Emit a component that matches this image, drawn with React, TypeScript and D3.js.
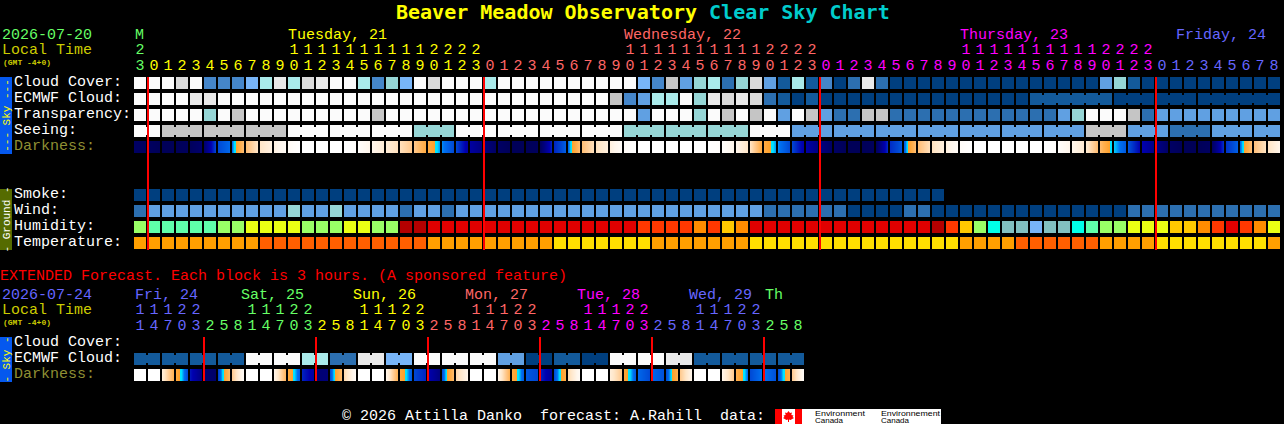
import React from "react";
import * as d3 from "d3";

// Colour levels (index = level)
const cloudPalette = ["#003F7F","#135A9B","#2C6FB0","#4586CA","#60A0E2","#78B5F8","#96D6D6","#A9EAEA","#C5C5C5","#DADADA","#E9E9E9","#FBFBFB"];
const humidityPalette = ["#B40000","#E00000","#FF3800","#FF8C00","#FFC800","#EAFF14","#99FF66","#5FFFAA","#00FFE8","#82C0C0","#78B4F8"];
const temperaturePalette = ["#FFDF00","#FF9F00","#FF5F00"];
const darkDomain = [0,1,2,3,3.5,3.85,4.06,4.07,5,6,7,8,9];
const darkRange = ["#000058","#000080","#0000B0","#0048D4","#0070F0","#00E0FF","#00E8FF","#FFA028","#FFB050","#FFC88C","#FFE6C8","#FFF6EC","#FFFFFF"];

// Main forecast (hourly)
const cloudCover = [11,11,11,9,11,3,3,3,5,7,10,7,9,10,11,11,7,3,6,5,11,9,11,11,11,7,11,11,11,11,11,11,11,11,11,11,5,3,8,4,6,7,2,6,9,4,1,7,1,3,0,2,10,2,0,0,0,0,0,0,0,0,0,0,0,0,0,0,0,4,6,1,0,0,0,0,0,0,0,0,0,0];
const ecmwfCloud = [11,11,11,11,10,10,11,11,11,11,11,11,11,11,11,11,11,11,11,11,11,11,11,11,11,11,11,11,11,11,11,11,11,11,8,3,4,7,7,11,6,10,9,10,9,2,1,0,1,0,0,0,0,0,0,0,0,0,0,0,0,0,0,0,1,1,1,1,1,1,0,0,0,0,0,0,0,0,0,0,0,0];
const ecmwfSpans = [1,1,1,1,1,1,1,1,1,1,1,1,1,1,1,1,1,1,1,1,1,1,1,1,1,1,1,1,1,1,1,1,1,1,1,1,1,1,1,1,1,1,1,1,1,1,1,1,1,1,1,1,1,1,1,1,1,1,1,1,1,1,1,1,6,3,3,6];
const transparency = [11,11,11,11,11,6,11,8,11,11,11,11,11,11,11,11,11,8,11,11,11,11,11,11,11,11,11,11,11,11,11,11,11,11,11,11,4,11,11,11,6,11,8,11,8,11,4,11,8,4,2,2,8,8,2,2,2,2,2,2,2,2,2,2,2,2,4,6,11,11,11,8,2,4,4,4,4,4,4,4,4,4];
const seeingBlocks = [11,8,8,8,11,11,11,6,11,11,11,11,6,6,6,11,4,4,4,4,4,4,4,8,4,2,4,4];
const seeingSpans = [2,3,3,3,3,3,3,3,3,3,3,3,3,3,3,3,3,3,3,3,3,3,3,3,3,3,3,2];
const darkness = [0.3,0.2,0,0,0.1,0.5,3,3.4,5.6,7,7.7,8.5,9,9,9,9,8.8,8,7.4,6.8,6,4.7,3.6,3,1.7,1,0.3,0,0,0.1,2.5,3.3,5.6,6.8,7.6,8.6,9,9,9,9,9,9,8.8,8,7,4.7,3.6,3,1.8,1,0.3,0,0,0.1,2.6,3.2,5.6,6.8,7.6,8.6,9,9,9,9,9,9,8.8,8,7.3,5.5,3.8,3.2,2,1.2,0.3,0,0,0.2,2.7,3.3,5.7,6.9,8];
const smoke = [0,0,0,0,0,0,0,0,0,0,0,0,0,0,0,0,0,0,0,0,0,0,0,0,0,0,0,0,0,0,0,0,0,0,0,0,0,0,0,0,0,0,0,0,0,0,0,0,0,0,0,0,0,0,0,0,0,0];
const wind = [2,4,4,4,4,4,4,4,4,4,4,6,4,4,6,4,4,4,4,2,4,4,2,4,4,4,4,4,4,4,4,4,4,4,4,4,4,4,4,4,4,4,4,4,4,2,2,2,2,2,2,0,0,0,0,2,2,0,0,0,0,0,0,0,0,0,0,0,0,0,0,2,2,2,2,2,2,2,2,2,2,2];
const humidity = [6,7,7,7,7,7,6,6,5,5,5,5,6,6,6,5,5,6,6,0,0,1,1,1,1,1,1,1,1,1,1,1,1,1,1,1,2,2,2,2,3,2,4,3,1,1,1,1,1,1,1,1,1,1,1,1,1,0,2,4,6,8,9,9,10,9,9,8,7,6,6,5,5,5,4,4,3,2,1,2,3,5];
const temperature = [1,1,1,1,1,1,1,1,1,2,2,2,2,2,2,2,2,2,2,2,2,1,1,1,1,1,1,1,1,1,0,0,0,0,0,0,0,1,1,1,1,1,1,1,0,0,0,0,0,0,0,0,0,0,0,0,0,0,0,1,1,1,1,2,2,2,2,2,2,1,1,1,1,0,0,0,0,0,0,0,0,1];

// Main axis
const mainHours = [3,0,1,2,3,4,5,6,7,8,9,0,1,2,3,4,5,6,7,8,9,0,1,2,3,0,1,2,3,4,5,6,7,8,9,0,1,2,3,4,5,6,7,8,9,0,1,2,3,0,1,2,3,4,5,6,7,8,9,0,1,2,3,4,5,6,7,8,9,0,1,2,3,0,1,2,3,4,5,6,7,8];
const mainTens = [2,"","","","","","","","","","",1,1,1,1,1,1,1,1,1,1,2,2,2,2,"","","","","","","","","","",1,1,1,1,1,1,1,1,1,1,2,2,2,2,"","","","","","","","","","",1,1,1,1,1,1,1,1,1,1,2,2,2,2,"","","","","","","","",""];
const mainDaySpans = [1,24,24,24,9];
const dayColors = ["#66FF66","#FFFF00","#FF6666","#FF00FF","#6666FF"];
const mainDayLabels = [["M",0,"#66FF66"],["Tuesday, 21",11,"#FFFF00"],["Wednesday, 22",35,"#FF6666"],["Thursday, 23",59,"#FF00FF"],["Friday, 24",74.43,"#6666FF"]] as [string,number,string][];
const mainMidnights = [1,25,49,73];

// Extended forecast (3-hourly)
const extHours = [1,4,7,0,3,2,5,8,1,4,7,0,3,2,5,8,1,4,7,0,3,2,5,8,1,4,7,0,3,2,5,8,1,4,7,0,3,2,5,8,1,4,7,0,3,2,5,8];
const extTens = [1,1,1,2,2,"","","",1,1,1,2,2,"","","",1,1,1,2,2,"","","",1,1,1,2,2,"","","",1,1,1,2,2,"","","",1,1,1,2,2,"","",""];
const extDaySpans = [5,8,8,8,8,8,3];
const extDayColors = ["#6666FF","#66FF66","#FFFF00","#FF6666","#FF00FF","#6666FF","#66FF66"];
const extDayLabels = [["Fri, 24",135,"#6666FF"],["Sat, 25",241,"#66FF66"],["Sun, 26",353,"#FFFF00"],["Mon, 27",465,"#FF6666"],["Tue, 28",577,"#FF00FF"],["Wed, 29",689,"#6666FF"],["Th",765,"#66FF66"]] as [string,number,string][];
const extMidnights = [5,13,21,29,37,45];
const extEcmwfBlocks = [1,1,1,1,11,11,7,2,10,5,11,11,11,4,0,1,0,11,11,10,1,1,1,1];
const extDarkStart = [9,9,7.5,4.6,2.3,0.6,2.8,6,9,9,8,4.6,2.5,0.7,3,6.5,9,9,8,4.6,3,2,3,6.5,9,9,8,4.7,3.2,2.5,3,6.5,9,9,7.5,4.5,3.4,3.4,3,6,9,9,8,5,3,3.5,3,6];
const extDarkEnd = [9,9,5,3,1,0.4,5.5,8.5,9,9,5.2,3.2,1.7,0.8,5.5,8.5,9,9,5,3.2,2.5,1,5.5,8,9,9,5,3.2,3,1.5,4.8,8.5,9,9,6,3.2,3,3.1,5,8,9,9,6,3.4,3.5,3.1,4.9,8.5];

const mono = "'Liberation Mono', monospace";
const sans = "'Liberation Sans', sans-serif";
const WHITE = "#FFFFFF";
const OLIVE = "#8F8F33";

const xMain = d3.scaleLinear().domain([0, 82]).range([134, 134 + 14 * 82]);
const cloudColor = d3.scaleOrdinal<number, string>().domain(d3.range(cloudPalette.length)).range(cloudPalette);
const humidityColor = d3.scaleOrdinal<number, string>().domain(d3.range(humidityPalette.length)).range(humidityPalette);
const temperatureColor = d3.scaleOrdinal<number, string>().domain(d3.range(temperaturePalette.length)).range(temperaturePalette);
const darkColor = d3.scaleLinear<string>().domain(darkDomain).range(darkRange).clamp(true);

const CELL = 12;

function Cells({ values, y, color }: { values: number[]; y: number; color: (v: number) => string }) {
  return (
    <g shapeRendering="crispEdges">
      {values.map((v, i) => (
        <rect key={i} x={xMain(i)} y={y} width={CELL} height={CELL} fill={color(v)} />
      ))}
    </g>
  );
}

// Cells of one run are joined by a neck across the gap
function Necks({ values, spans, y, color }: { values: number[]; spans: number[]; y: number; color: (v: number) => string }) {
  const necks: React.ReactNode[] = [];
  let start = 0;
  spans.forEach((s) => {
    for (let k = start; k < start + s - 1; k++) {
      necks.push(<rect key={k} x={xMain(k) + CELL} y={y + 2} width={2} height={CELL - 4} fill={color(values[k])} />);
    }
    start += s;
  });
  return <g shapeRendering="crispEdges">{necks}</g>;
}

function DarkCells({ starts, ends, y }: { starts: number[]; ends: number[]; y: number }) {
  const px = d3.range(CELL);
  return (
    <g shapeRendering="crispEdges">
      {starts.map((s, i) =>
        px.map((p) => (
          <rect key={i + "-" + p} x={xMain(i) + p} y={y} width={1} height={CELL} fill={darkColor(s + ((ends[i] - s) * (p + 0.5)) / CELL)} />
        ))
      )}
    </g>
  );
}

function expand(blocks: number[], spans: number[]) {
  return blocks.flatMap((b, i) => d3.range(spans[i]).map(() => b));
}
function colorsBySpan(spans: number[], colors: string[]) {
  return spans.flatMap((s, i) => d3.range(s).map(() => colors[i]));
}

function Label({ x, y, fill = WHITE, children }: { x: number; y: number; fill?: string; children: React.ReactNode }) {
  return (
    <text x={x} y={y} fill={fill} fontFamily={mono} fontSize={15} style={{ whiteSpace: "pre" }}>
      {children}
    </text>
  );
}

function Digits({ values, colors, y }: { values: (number | string)[]; colors: string[]; y: number }) {
  return (
    <g>
      {values.map((d, i) =>
        d === "" ? null : (
          <text key={i} x={xMain(i) + 6} y={y} fill={colors[i]} fontFamily={mono} fontSize={15} textAnchor="middle">
            {d}
          </text>
        )
      )}
    </g>
  );
}

function Side({ y, h, fill, color, text, size = 11 }: { y: number; h: number; fill: string; color: string; text: string; size?: number }) {
  return (
    <g>
      <rect x={0} y={y} width={12} height={h} fill={fill} shapeRendering="crispEdges" />
      <text transform={`translate(9.5,${y + h / 2}) rotate(-90)`} textAnchor="middle" fill={color} fontFamily={mono} fontSize={size} style={{ whiteSpace: "pre" }}>
        {text}
      </text>
    </g>
  );
}

export default function App() {
  const mainColors = colorsBySpan(mainDaySpans, dayColors);
  const extColors = colorsBySpan(extDaySpans, extDayColors);
  const spanPairs = extEcmwfBlocks.map(() => 2);
  const extEcmwf = expand(extEcmwfBlocks, spanPairs);
  const seeing = expand(seeingBlocks, seeingSpans);
  return (
    <svg width={1284} height={424} style={{ position: "fixed", left: 0, top: 0, background: "#000", display: "block" }}>
      <rect width={1284} height={424} fill="#000" />
      <text x={396} y={19} fontFamily="'DejaVu Sans Mono', monospace" fontWeight="bold" fontSize={20} fill="#FFFF00" style={{ whiteSpace: "pre" }}>
        Beaver Meadow Observatory <tspan fill="#00CCCC">Clear Sky Chart</tspan>
      </text>

      {/* Main header */}
      <Label x={2} y={39} fill="#66FF66">2026-07-20</Label>
      <Label x={2} y={54} fill="#CCCC00">Local Time</Label>
      <text x={3} y={65} fontFamily={mono} fontSize={8} fontWeight="bold" fill="#CCCC00">(GMT -4+0)</text>
      {mainDayLabels.map(([t, c, col]) => (
        <Label key={t} x={xMain(c) + (c === 0 ? 1 : 0)} y={39} fill={col}>{t}</Label>
      ))}
      <Digits values={mainTens} colors={mainColors} y={54} />
      <Digits values={mainHours} colors={mainColors} y={70} />

      {/* Main sky rows */}
      <Side y={77} h={77} fill="#0558EE" color="#FFFF00" text="--- Sky ---" />
      <Label x={14} y={86}>Cloud Cover:</Label>
      <Label x={14} y={102}>ECMWF Cloud:</Label>
      <Label x={14} y={118}>Transparency:</Label>
      <Label x={14} y={134}>Seeing:</Label>
      <Label x={14} y={150} fill={OLIVE}>Darkness:</Label>
      <Cells values={cloudCover} y={77} color={cloudColor} />
      <Cells values={ecmwfCloud} y={93} color={cloudColor} />
      <Necks values={ecmwfCloud} spans={ecmwfSpans} y={93} color={cloudColor} />
      <Cells values={transparency} y={109} color={cloudColor} />
      <Cells values={seeing} y={125} color={cloudColor} />
      <Necks values={seeing} spans={seeingSpans} y={125} color={cloudColor} />
      <DarkCells starts={darkness.slice(0, -1)} ends={darkness.slice(1)} y={141} />

      {/* Main ground rows */}
      <Side y={189} h={61} fill="#556B00" color={WHITE} text="- Ground -" />
      <Label x={14} y={198}>Smoke:</Label>
      <Label x={14} y={214}>Wind:</Label>
      <Label x={14} y={230}>Humidity:</Label>
      <Label x={14} y={246}>Temperature:</Label>
      <Cells values={smoke} y={189} color={cloudColor} />
      <Cells values={wind} y={205} color={cloudColor} />
      <Cells values={humidity} y={221} color={humidityColor} />
      <Cells values={temperature} y={237} color={temperatureColor} />

      <g shapeRendering="crispEdges">
        {mainMidnights.map((c) => (
          <rect key={c} x={xMain(c) - 1} y={77} width={2} height={173} fill="#FF0000" />
        ))}
      </g>

      {/* Extended */}
      <Label x={0} y={280} fill="#FF0000">EXTENDED Forecast. Each block is 3 hours. (A sponsored feature)</Label>
      <Label x={2} y={299} fill="#6666FF">2026-07-24</Label>
      <Label x={2} y={314} fill="#CCCC00">Local Time</Label>
      <text x={3} y={325} fontFamily={mono} fontSize={8} fontWeight="bold" fill="#CCCC00">(GMT -4+0)</text>
      {extDayLabels.map(([t, x, col]) => (
        <Label key={t} x={x} y={299} fill={col}>{t}</Label>
      ))}
      <Digits values={extTens} colors={extColors} y={314} />
      <Digits values={extHours} colors={extColors} y={330} />

      <Side y={337} h={45} fill="#0558EE" color="#FFFF00" text="- Sky -" />
      <Label x={14} y={346}>Cloud Cover:</Label>
      <Label x={14} y={362}>ECMWF Cloud:</Label>
      <Label x={14} y={378} fill={OLIVE}>Darkness:</Label>
      <Cells values={extEcmwf} y={353} color={cloudColor} />
      <Necks values={extEcmwf} spans={spanPairs} y={353} color={cloudColor} />
      <DarkCells starts={extDarkStart} ends={extDarkEnd} y={369} />
      <g shapeRendering="crispEdges">
        {extMidnights.map((c) => (
          <rect key={c} x={xMain(c) - 1} y={337} width={2} height={44} fill="#FF0000" />
        ))}
      </g>

      {/* Footer */}
      <Label x={342} y={420}>© 2026 Attilla Danko  forecast: A.Rahill  data:</Label>
      <svg x={775} y={409} width={166} height={15}>
        <rect width={166} height={15} fill="#FFF" shapeRendering="crispEdges" />
        <rect width={7} height={15} fill="#FF0000" shapeRendering="crispEdges" />
        <rect x={20} width={7} height={15} fill="#FF0000" shapeRendering="crispEdges" />
        <path d="M13.5 2 L15 4 L17 3.5 L16.3 6 L18.5 6.5 L17.5 8 L19 9 L15.5 11 L14 10.5 L14 13 L13 13 L13 10.5 L11.5 11 L8 9 L9.5 8 L8.5 6.5 L10.7 6 L10 3.5 L12 4 Z" fill="#FF0000" />
        <text x={40} y={6.5} fontFamily={sans} fontSize={7} fill="#000" textLength={50} lengthAdjust="spacingAndGlyphs">Environment</text>
        <text x={40} y={14} fontFamily={sans} fontSize={7} fill="#000" textLength={28} lengthAdjust="spacingAndGlyphs">Canada</text>
        <text x={106} y={6.5} fontFamily={sans} fontSize={7} fill="#000" textLength={59} lengthAdjust="spacingAndGlyphs">Environnement</text>
        <text x={106} y={14} fontFamily={sans} fontSize={7} fill="#000" textLength={28} lengthAdjust="spacingAndGlyphs">Canada</text>
      </svg>
    </svg>
  );
}
